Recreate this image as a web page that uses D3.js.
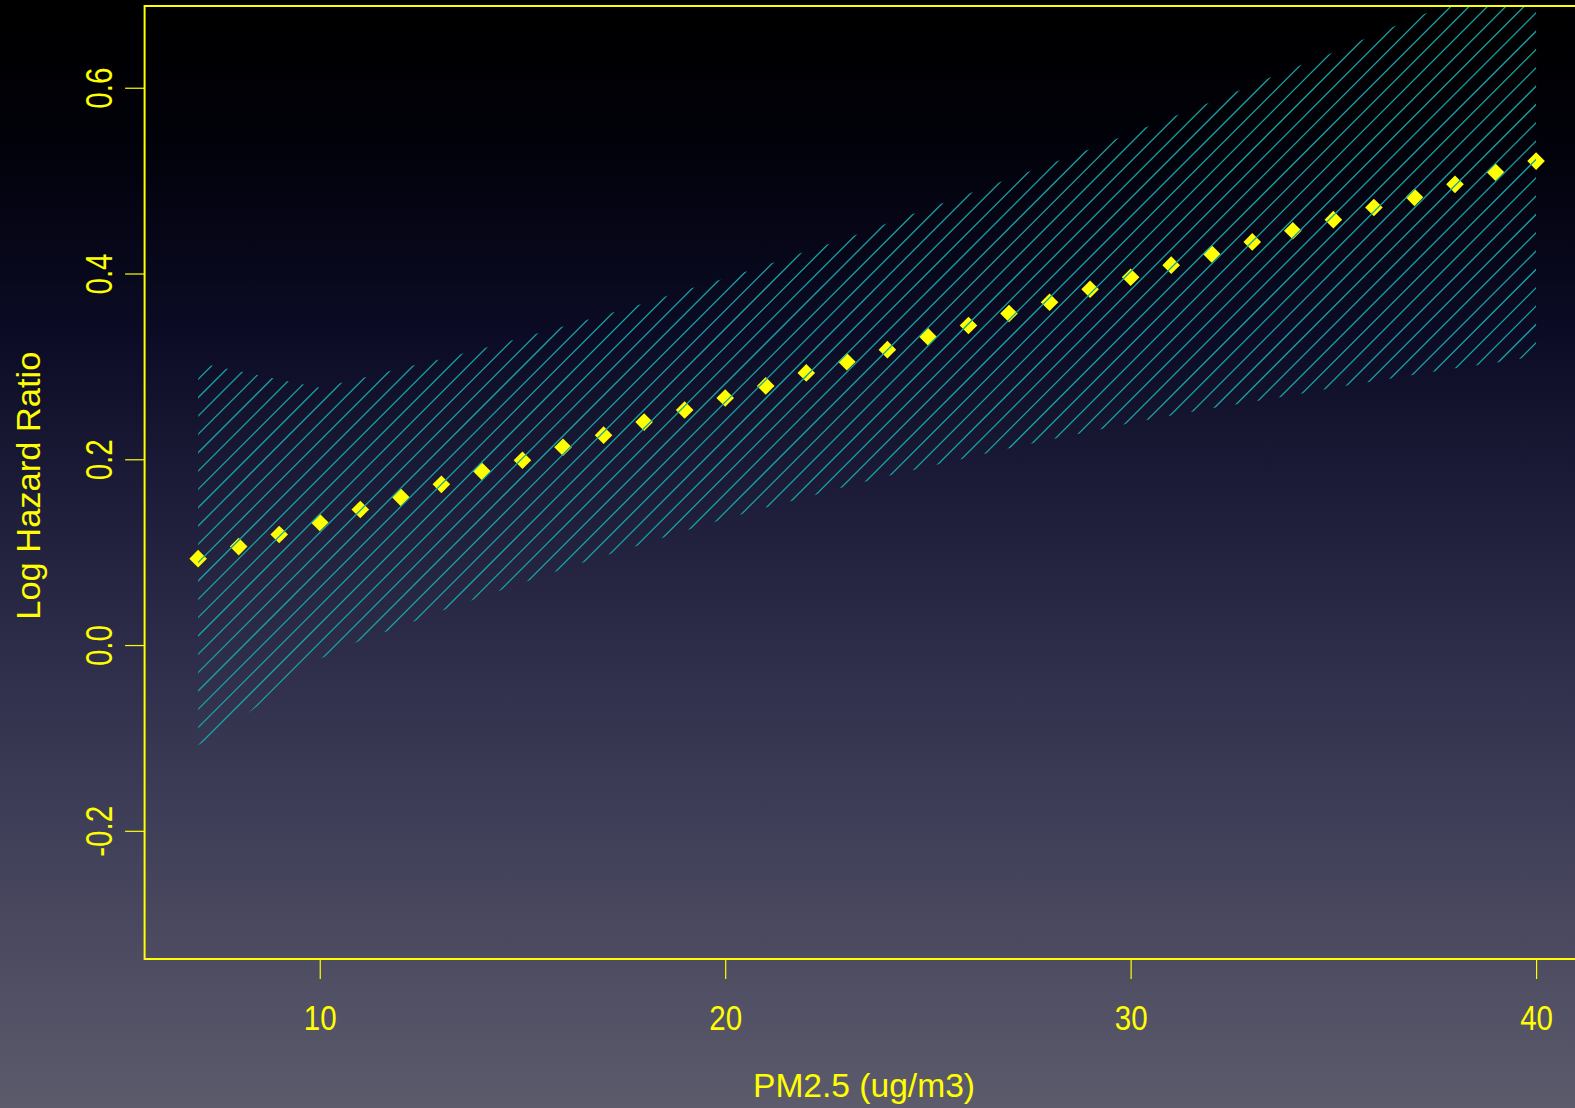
<!DOCTYPE html>
<html>
<head>
<meta charset="utf-8">
<script src="https://cdn.jsdelivr.net/npm/d3@7"></script>
<style>
  html, body { margin: 0; padding: 0; background: #000; overflow: hidden; }
  svg { display: block; }
  text { font-family: "Liberation Sans", Arial, sans-serif; fill: #ffff00; }
</style>
</head>
<body>
<svg width="1575" height="1108"></svg>
<script>
// data
const pm = [7, 8, 9, 10, 11, 12, 13, 14, 15, 16, 17, 18, 19, 20, 21, 22, 23,
            24, 25, 26, 27, 28, 29, 30, 31, 32, 33, 34, 35, 36, 37, 38, 39, 40]
const logHR = [0.093, 0.106, 0.119, 0.132, 0.146, 0.159, 0.173, 0.187, 0.199, 0.213, 0.226, 0.240,
               0.253, 0.266, 0.279, 0.293, 0.305, 0.318, 0.332, 0.344, 0.357, 0.369, 0.383, 0.396,
               0.409, 0.421, 0.434, 0.446, 0.458, 0.471, 0.482, 0.496, 0.509, 0.521]
const lower = [-0.108, -0.081, -0.048, -0.015, 0.005, 0.020, 0.037, 0.052, 0.067, 0.082, 0.096, 0.109,
               0.123, 0.136, 0.148, 0.159, 0.171, 0.182, 0.192, 0.202, 0.212, 0.221, 0.230, 0.239,
               0.247, 0.255, 0.262, 0.269, 0.277, 0.284, 0.291, 0.298, 0.304, 0.311]
const upper = [0.304, 0.295, 0.286, 0.277, 0.287, 0.298, 0.308, 0.319, 0.331, 0.343, 0.355, 0.368,
               0.382, 0.395, 0.409, 0.424, 0.438, 0.454, 0.470, 0.486, 0.502, 0.518, 0.534, 0.551,
               0.568, 0.585, 0.603, 0.621, 0.638, 0.657, 0.675, 0.693, 0.711, 0.731]
const xTicks = [10, 20, 30, 40]
const yTicks = [-0.2, 0.0, 0.2, 0.4, 0.6]

const svg = d3.select("svg"),
    width = +svg.attr("width"),
    height = +svg.attr("height");

const yellow = "#ffff00", teal = "#18a2a2"

// plot region (R-style 4% extension around xlim 7..40, ylim -0.3..0.65)
const pLeft = 144.6, pRight = 1589.6, pTop = 6, pBottom = 959
const x = d3.scaleLinear().domain([5.68, 41.32]).range([pLeft, pRight])
const y = d3.scaleLinear().domain([-0.338, 0.688]).range([pBottom, pTop])

// background gradient
const defs = svg.append("defs")
const grad = defs.append("linearGradient").attr("id", "bg")
    .attr("x1", 0).attr("y1", 0).attr("x2", 0).attr("y2", 1)
const stops = [[0, "#000000"], [0.12, "#010109"], [0.3, "#0b0b25"], [0.5, "#232340"],
               [0.7, "#3a3a55"], [0.85, "#4b4a60"], [1, "#5c5b6c"]]
grad.selectAll("stop").data(stops).join("stop")
    .attr("offset", d => d[0]).attr("stop-color", d => d[1])
svg.append("rect").attr("width", width).attr("height", height).attr("fill", "url(#bg)")

// clip paths: plot region and the confidence band
defs.append("clipPath").attr("id", "plotClip")
  .append("rect").attr("x", pLeft).attr("y", pTop).attr("width", pRight - pLeft).attr("height", pBottom - pTop)

const band = d3.area()
    .x((d, i) => x(pm[i]))
    .y0((d, i) => y(lower[i]))
    .y1((d, i) => y(upper[i]))
defs.append("clipPath").attr("id", "bandClip")
  .append("path").attr("d", band(pm))

// points (yellow diamonds)
svg.append("g")
  .selectAll("path")
  .data(pm)
  .join("path")
    .attr("d", d3.symbol(d3.symbolSquare, 155))
    .attr("transform", (d, i) => `translate(${x(d)},${y(logHR[i])}) rotate(45)`)
    .attr("fill", yellow)

// hatched band, drawn over the points like R's polygon(density=)
const gap = 18.33, c0 = 944
const cs = d3.range(-45, 80).map(k => c0 + k * gap)
svg.append("g").attr("clip-path", "url(#plotClip)")
  .append("g").attr("clip-path", "url(#bandClip)")
  .selectAll("line")
  .data(cs)
  .join("line")
    .attr("x1", c => c - 900).attr("y1", 900)
    .attr("x2", c => c + 100).attr("y2", -100)
    .attr("stroke", teal)
    .attr("stroke-width", 1.3)

// box
svg.append("rect")
    .attr("x", pLeft).attr("y", pTop)
    .attr("width", pRight - pLeft).attr("height", pBottom - pTop)
    .attr("fill", "none").attr("stroke", yellow).attr("stroke-width", 2)

// y axis
const yAxis = svg.append("g")
    .attr("transform", `translate(${pLeft},0)`)
    .call(d3.axisLeft(y).tickValues(yTicks).tickSize(19.5).tickFormat(d => d.toFixed(1)))
yAxis.select(".domain").remove()
yAxis.selectAll("line").attr("stroke", yellow).attr("stroke-width", 1.2)
yAxis.selectAll("text")
    .attr("x", null).attr("dy", null)
    .attr("transform", "translate(-32.5,0) rotate(-90) scale(0.8,1)")
    .attr("text-anchor", "middle")
    .style("font-size", "37px")
    .attr("fill", yellow)

// x axis
const xAxis = svg.append("g")
    .attr("transform", `translate(0,${pBottom})`)
    .call(d3.axisBottom(x).tickValues(xTicks).tickSize(20))
xAxis.select(".domain").remove()
xAxis.selectAll("line").attr("stroke", yellow).attr("stroke-width", 1.2)
xAxis.selectAll("text")
    .attr("y", 71).attr("dy", null)
    .attr("transform", "scale(0.82,1)")
    .style("font-size", "36px")
    .attr("fill", yellow)

// axis titles
svg.append("text")
    .attr("x", 864).attr("y", 1097)
    .attr("text-anchor", "middle")
    .attr("textLength", 222).attr("lengthAdjust", "spacingAndGlyphs")
    .style("font-size", "34px")
    .text("PM2.5 (ug/m3)")

svg.append("text")
    .attr("transform", "translate(40,485.7) rotate(-90)")
    .attr("text-anchor", "middle")
    .attr("textLength", 268).attr("lengthAdjust", "spacingAndGlyphs")
    .style("font-size", "34px")
    .text("Log Hazard Ratio")
</script>
</body>
</html>
